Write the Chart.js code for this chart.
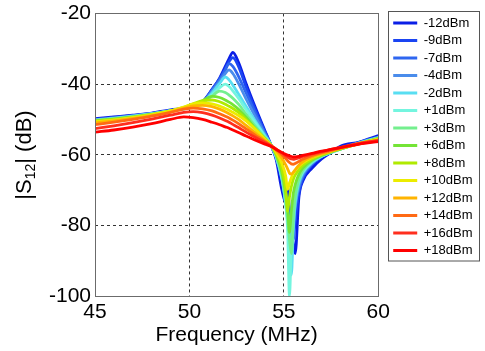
<!DOCTYPE html>
<html><head><meta charset="utf-8">
<script src="https://cdn.jsdelivr.net/npm/chart.js@4/dist/chart.umd.min.js"></script>
<style>html,body{margin:0;padding:0;background:#fff;}#wrap{width:485px;height:351px;}</style>
</head><body><div id="wrap"><canvas id="c" width="485" height="351"></canvas></div>
<script>
// Frequency axis (MHz)
const freqMHz = [45, 46, 47, 48, 49, 49.7, 50.2, 50.7, 51.2, 51.6, 51.9, 52.1, 52.3, 52.6, 53, 53.5, 54, 54.3, 54.6, 54.9, 55.1, 55.2, 55.3, 55.4, 55.5, 55.6, 55.8, 56, 56.5, 57, 57.5, 58, 59, 60];
const powerLabels = ['-12dBm','-9dBm','-7dBm','-4dBm','-2dBm','+1dBm','+3dBm','+6dBm','+8dBm','+10dBm','+12dBm','+14dBm','+16dBm','+18dBm'];
const powerColors = ['#0a1ee6','#1a44f2','#2e66f0','#4a8ceb','#58def2','#74f5df','#74ef8e','#74e436','#b0ea00','#ecec00','#ffb400','#ff6a14','#ff2e1e','#ff0000'];
const xTicks = [45, 50, 55, 60];
const yTicks = [-20, -40, -60, -80, -100];

const s12_m12 = [-49.8,-49.3,-48.8,-48.2,-47.3,-46.9,-46.4,-45.0,-41.5,-38.3,-35.0,-32.8,-31.0,-33.8,-39.8,-46.7,-53.2,-57.0,-61.5,-70.0,-73.5,-69.0,-76.0,-80.0,-85.0,-88.0,-72.0,-67.5,-63.8,-61.2,-59.4,-57.6,-56.4,-54.6];
const s12_m9 = [-50.0,-49.5,-48.9,-48.3,-47.5,-46.9,-46.4,-45.1,-41.6,-38.5,-35.6,-33.6,-32.5,-35.0,-40.8,-47.4,-53.5,-57.0,-61.0,-67.0,-71.5,-74.5,-78.0,-81.0,-84.0,-79.0,-71.0,-66.8,-62.8,-60.6,-59.3,-58.1,-56.5,-55.0];
const s12_m7 = [-50.1,-49.6,-49.0,-48.4,-47.5,-46.9,-46.4,-45.2,-41.7,-38.7,-36.0,-34.2,-35.0,-37.8,-42.5,-48.3,-53.9,-57.0,-60.8,-66.0,-70.5,-73.5,-77.0,-80.0,-78.0,-74.0,-69.5,-66.2,-62.6,-60.5,-59.3,-58.2,-56.5,-55.0];
const s12_m4 = [-50.1,-49.6,-49.0,-48.4,-47.5,-47.0,-46.4,-45.2,-42.0,-39.2,-37.0,-36.0,-37.0,-39.8,-44.2,-49.3,-54.2,-57.0,-60.8,-66.5,-72.0,-75.5,-79.5,-86.0,-80.0,-75.0,-69.0,-65.8,-62.4,-60.4,-59.3,-58.3,-56.6,-55.1];
const s12_m2 = [-50.2,-49.7,-49.1,-48.4,-47.6,-47.0,-46.4,-45.3,-42.5,-39.8,-38.0,-38.8,-40.3,-42.8,-46.3,-50.5,-54.6,-57.0,-60.7,-67.0,-74.0,-79.0,-86.0,-94.0,-82.0,-74.0,-68.0,-65.2,-62.2,-60.5,-59.4,-58.4,-56.7,-55.2];
const s12_p1 = [-50.3,-49.8,-49.2,-48.5,-47.6,-47.0,-46.4,-45.3,-43.0,-41.0,-40.0,-40.7,-41.9,-44.0,-47.2,-51.0,-54.9,-57.0,-60.5,-66.5,-74.0,-81.0,-100.0,-85.0,-76.0,-71.5,-67.0,-64.8,-62.0,-60.4,-59.3,-58.4,-56.7,-55.2];
const s12_p3 = [-50.3,-49.8,-49.2,-48.5,-47.6,-46.9,-46.3,-45.2,-43.4,-42.0,-42.4,-43.1,-44.0,-45.7,-48.5,-52.0,-55.2,-57.0,-60.3,-66.0,-73.0,-78.0,-84.0,-88.0,-78.0,-72.0,-67.0,-64.5,-61.8,-60.3,-59.3,-58.4,-56.8,-55.3];
const s12_p6 = [-50.4,-49.9,-49.3,-48.6,-47.6,-46.8,-46.0,-44.7,-43.5,-43.8,-44.5,-45.1,-45.8,-47.1,-49.4,-52.6,-55.5,-57.1,-60.0,-65.0,-71.0,-75.0,-82.0,-76.0,-71.0,-68.5,-65.5,-63.8,-61.5,-60.2,-59.2,-58.4,-56.8,-55.4];
const s12_p8 = [-50.5,-50.0,-49.4,-48.6,-47.6,-46.6,-45.6,-44.7,-44.5,-45.0,-45.7,-46.3,-46.9,-48.0,-50.0,-52.9,-55.6,-57.2,-59.8,-64.0,-70.0,-76.0,-72.0,-69.0,-67.0,-65.8,-64.2,-63.0,-61.2,-60.0,-59.1,-58.3,-56.8,-55.5];
const s12_p10 = [-50.7,-50.2,-49.5,-48.7,-47.6,-46.5,-45.6,-45.3,-45.6,-46.2,-46.9,-47.4,-48.0,-48.9,-50.4,-52.8,-55.6,-57.2,-59.3,-62.5,-66.0,-69.8,-68.0,-66.5,-65.2,-64.4,-63.2,-62.3,-60.8,-59.8,-59.0,-58.2,-56.8,-55.6];
const s12_p12 = [-51.0,-50.4,-49.7,-48.9,-47.9,-46.8,-46.2,-46.0,-46.4,-47.1,-47.8,-48.4,-49.0,-50.0,-51.7,-53.9,-56.0,-57.3,-58.9,-61.0,-62.9,-64.0,-65.2,-65.5,-65.0,-64.3,-63.0,-62.0,-60.6,-59.7,-59.0,-58.2,-56.9,-55.8];
const s12_p14 = [-51.5,-50.8,-50.0,-49.1,-48.0,-47.1,-46.8,-47.0,-47.6,-48.4,-49.1,-49.6,-50.2,-51.2,-52.7,-54.5,-56.3,-57.3,-58.5,-60.0,-61.1,-61.7,-62.2,-62.6,-62.7,-62.5,-61.9,-61.3,-60.2,-59.4,-58.8,-58.1,-56.9,-55.9];
const s12_p16 = [-52.6,-51.8,-50.9,-49.9,-48.8,-48.0,-47.8,-48.1,-48.8,-49.6,-50.3,-50.8,-51.4,-52.3,-53.6,-55.1,-56.6,-57.4,-58.4,-59.5,-60.3,-60.7,-61.0,-61.2,-61.3,-61.2,-60.9,-60.5,-59.8,-59.1,-58.5,-57.9,-56.8,-56.0];
const s12_p18 = [-53.6,-53.0,-52.2,-51.2,-50.0,-49.3,-49.5,-50.0,-50.8,-51.5,-52.1,-52.5,-53.0,-53.7,-54.7,-55.9,-57.0,-57.6,-58.5,-59.4,-59.9,-60.1,-60.3,-60.5,-60.6,-60.6,-60.5,-60.2,-59.6,-59.0,-58.5,-58.0,-57.0,-56.3];

const seriesValues = [s12_m12, s12_m9, s12_m7, s12_m4, s12_m2, s12_p1, s12_p3, s12_p6, s12_p8, s12_p10, s12_p12, s12_p14, s12_p16, s12_p18];

const FONT = '"Liberation Sans", Arial, Helvetica, sans-serif';

const datasets = seriesValues.map((vals, i) => ({
  label: powerLabels[i],
  data: freqMHz.map((f, j) => ({x: f, y: vals[j]})),
  borderColor: powerColors[i],
  backgroundColor: powerColors[i],
  borderWidth: 2.8,
  pointRadius: 0,
  fill: false,
  cubicInterpolationMode: 'monotone',
  order: seriesValues.length - 1 - i
}));

const decorPlugin = {
  id: 'decor',
  afterLayout(chart) {
    if (chart.legend) { chart.legend.left += 10.5; }
  },
  afterDatasetsDraw(chart) {
    const {ctx, chartArea: a} = chart;
    ctx.save();
    ctx.strokeStyle = '#6b6b6b';
    ctx.lineWidth = 1;
    ctx.setLineDash([]);
    ctx.strokeRect(Math.round(a.left) + 0.5, Math.round(a.top) + 0.5, Math.round(a.right - a.left), Math.round(a.bottom - a.top));
    ctx.restore();
  },
  afterDraw(chart) {
    const ctx = chart.ctx;
    ctx.save();
    ctx.strokeStyle = '#555555';
    ctx.lineWidth = 1;
    ctx.strokeRect(388.5, 11.5, 91, 249.5);
    ctx.restore();
    ctx.save();
    ctx.translate(31, 155);
    ctx.rotate(-Math.PI / 2);
    ctx.fillStyle = '#000';
    ctx.textBaseline = 'alphabetic';
    const mainF = '22px ' + FONT, subF = '14px ' + FONT;
    ctx.font = mainF; const w1 = ctx.measureText('|S').width; const w3 = ctx.measureText('| (dB)').width;
    ctx.font = subF; const w2 = ctx.measureText('12').width;
    let x0 = -(w1 + w2 + w3) / 2;
    ctx.font = mainF; ctx.fillText('|S', x0, 0);
    ctx.font = subF; ctx.fillText('12', x0 + w1, 4);
    ctx.font = mainF; ctx.fillText('| (dB)', x0 + w1 + w2, 0);
    ctx.restore();
  }
};

const gridColor = (edgeVals) => (c) => (c.tick && edgeVals.includes(c.tick.value)) ? 'rgba(0,0,0,0)' : '#333333';

new Chart(document.getElementById('c'), {
  type: 'line',
  data: {datasets},
  options: {
    responsive: false,
    devicePixelRatio: 1,
    animation: false,
    events: [],
    layout: {padding: {left: 47, top: 12, right: 13, bottom: 0}},
    scales: {
      x: {
        type: 'linear', min: xTicks[0], max: xTicks[xTicks.length - 1],
        afterBuildTicks: (s) => { s.ticks = xTicks.map(v => ({value: v})); },
        afterFit: (s) => { s.height = 55; },
        ticks: {padding: 4, color: '#000', font: {family: FONT, size: 21, lineHeight: 1.2}},
        grid: {color: gridColor([xTicks[0], xTicks[xTicks.length - 1]]), lineWidth: 1, drawTicks: false},
        border: {display: false, dash: [3, 3]},
        title: {display: true, text: 'Frequency (MHz)', color: '#000', font: {family: FONT, size: 21}, padding: {top: 0, bottom: 3}}
      },
      y: {
        type: 'linear', min: -100, max: -20,
        afterBuildTicks: (s) => { s.ticks = yTicks.slice().reverse().map(v => ({value: v})); },
        afterFit: (s) => { s.width = 48; },
        ticks: {padding: 4, color: '#000', font: {family: FONT, size: 21, lineHeight: 0.9}},
        grid: {color: gridColor([yTicks[0], yTicks[yTicks.length - 1]]), lineWidth: 1, drawTicks: false},
        border: {display: false, dash: [3, 3]}
      }
    },
    plugins: {
      tooltip: {enabled: false},
      legend: {
        position: 'right', align: 'start', reverse: true,
        labels: {usePointStyle: true, pointStyle: 'line', pointStyleWidth: 24, boxHeight: 13, padding: 4.5, color: '#000', font: {family: FONT, size: 13}}
      }
    }
  },
  plugins: [decorPlugin]
});
</script>
</body></html>
